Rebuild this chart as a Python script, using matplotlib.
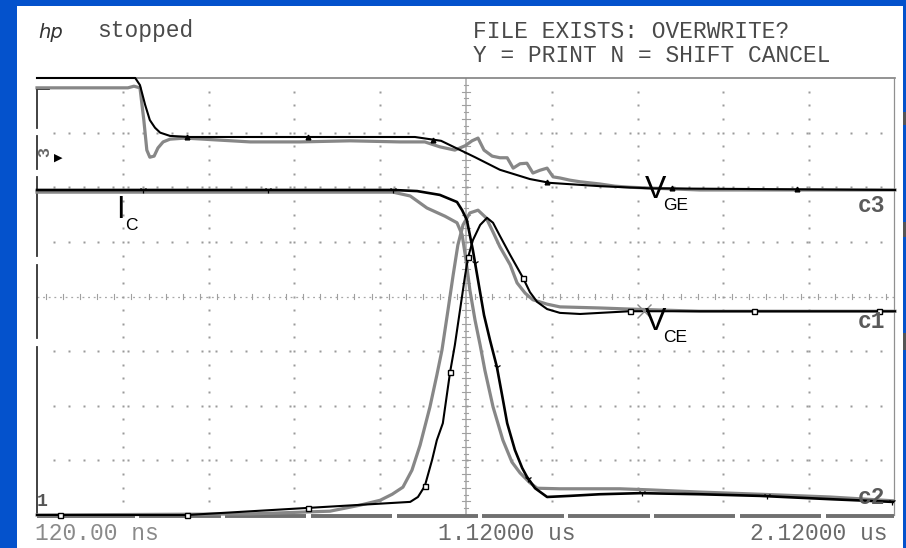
import numpy as np
import matplotlib
matplotlib.use("Agg")
import matplotlib.pyplot as plt
from matplotlib.patches import Rectangle

# ---------------- data (time in ns, amplitude in screen divisions) ----------------
vge_t = [120, 349, 360, 372, 383, 395, 407, 430, 477, 1001, 1062, 1083, 1141, 1199,
         1269, 1316, 1432, 1549, 2120]
vge_v = [8.00, 8.00, 7.87, 7.51, 7.23, 7.09, 7.00, 6.94, 6.92, 6.92, 6.85, 6.77, 6.55,
         6.32, 6.15, 6.08, 6.02, 5.98, 5.95]

vge_sim_t = [120, 332, 346, 360, 369, 376, 383, 393, 402, 414, 430, 465, 617, 733, 850,
             966, 1024, 1059, 1094, 1118, 1134, 1148, 1162, 1181, 1199, 1216, 1230, 1246,
             1262, 1276, 1292, 1309, 1323, 1339, 1362, 1386, 1409, 1432, 1467, 1502,
             1665, 2120]
vge_sim_v = [7.82, 7.82, 7.85, 7.82, 7.23, 6.68, 6.55, 6.57, 6.72, 6.83, 6.88, 6.90, 6.83,
             6.83, 6.85, 6.83, 6.83, 6.74, 6.68, 6.76, 6.85, 6.90, 6.68, 6.57, 6.54, 6.54,
             6.35, 6.43, 6.44, 6.26, 6.31, 6.35, 6.19, 6.17, 6.13, 6.10, 6.08, 6.06, 6.02,
             6.00, 5.95, 5.95]

ic_t = [120, 950, 1006, 1059, 1099, 1111, 1122, 1136, 1148, 1162, 1176, 1192, 1204, 1216,
        1234, 1251, 1262, 1281, 1309, 1362, 1432, 1526, 1665, 1805, 1968, 2115]
ic_v = [5.95, 5.95, 5.93, 5.86, 5.73, 5.58, 5.40, 4.85, 4.30, 3.66, 3.20, 2.71, 2.20, 1.68,
        1.19, 0.86, 0.70, 0.49, 0.33, 0.35, 0.38, 0.40, 0.38, 0.35, 0.29, 0.24]

ic_sim_t = [120, 950, 990, 1029, 1071, 1099, 1111, 1120, 1129, 1141, 1153, 1164, 1183,
            1206, 1227, 1246, 1269, 1286, 1339, 1479, 1549, 1665, 1805, 1968, 2115]
ic_sim_v = [5.91, 5.91, 5.84, 5.62, 5.47, 5.35, 5.13, 4.67, 4.12, 3.57, 3.11, 2.65, 1.98,
            1.37, 0.97, 0.77, 0.59, 0.49, 0.48, 0.48, 0.46, 0.42, 0.38, 0.33, 0.26]

vce_t = [120, 470, 752, 990, 1008, 1024, 1041, 1052, 1066, 1083, 1094, 1106, 1118, 1125,
         1136, 1153, 1169, 1183, 1199, 1223, 1253, 1269, 1286, 1309, 1339, 1386, 1432,
         1502, 2120]
vce_v = [0.00, 0.00, 0.13, 0.24, 0.33, 0.53, 1.01, 1.37, 1.68, 2.62, 3.11, 3.75, 4.39, 4.72,
         5.03, 5.31, 5.44, 5.35, 5.11, 4.76, 4.34, 4.08, 3.90, 3.77, 3.70, 3.68, 3.70,
         3.73, 3.73]

vce_sim_t = [120, 617, 803, 873, 920, 948, 973, 994, 1013, 1036, 1052, 1064, 1078, 1090,
             1101, 1113, 1129, 1148, 1167, 1183, 1199, 1223, 1239, 1258, 1276, 1309, 1339,
             1432, 1502, 1665, 2120]
vce_sim_v = [0.00, 0.02, 0.07, 0.18, 0.27, 0.38, 0.51, 0.82, 1.28, 1.98, 2.56, 3.02, 3.75,
             4.39, 4.94, 5.31, 5.53, 5.58, 5.44, 5.18, 4.91, 4.58, 4.25, 4.06, 3.94, 3.86,
             3.81, 3.79, 3.77, 3.73, 3.73]

vce_marks = [174, 470, 752, 1024, 1083, 1125, 1253, 1502, 1791, 2083]
vge_marks = [470, 752, 1043, 1309, 1600, 1892]
ic_marks = [367, 659, 950, 1141, 1192, 1265, 1531, 1822, 2113]

x_labels = ["120.00 ns", "1.12000 us", "2.12000 us"]

# ---------------- figure ----------------
W, H = 906, 548
fig = plt.figure(figsize=(W / 100, H / 100), dpi=100)
fig.patch.set_facecolor("#0452cc")

def fx(px):
    return px / W

def fy(py):
    return 1 - py / H

fig.add_artist(Rectangle((fx(17), 0), fx(903) - fx(17), fy(6), transform=fig.transFigure,
                         facecolor="white", edgecolor="none", zorder=0))
# small bars on right edge
for y0, y1 in [(112, 125), (222, 237), (333, 350)]:
    fig.add_artist(Rectangle((fx(903), fy(y1)), fx(3), fy(y0) - fy(y1),
                             transform=fig.transFigure, facecolor="#555555",
                             edgecolor="none", zorder=1))

ax = fig.add_axes([fx(37), fy(515), fx(895) - fx(37), fy(78) - fy(515)])
ax.set_xlim(120, 2120)
ax.set_ylim(0, 8)
ax.axis("off")
ax.patch.set_alpha(0)

GRID = "#9a9a9a"
div_t = [120 + 200 * i for i in range(11)]

# dotted grid
for i in range(1, 10):
    if i == 5:
        continue
    ys = np.arange(0.25, 8.0, 0.25)
    ax.plot([div_t[i]] * len(ys), ys, ls="none", marker="s", ms=1.5, color=GRID,
            mec="none", clip_on=False)
for j in range(1, 8):
    if j == 4:
        continue
    xs = np.arange(160, 2120, 34.4)
    ax.plot(xs, [j] * len(xs), ls="none", marker="s", ms=1.5, color=GRID, mec="none",
            clip_on=False)

# centre crosshair
ax.plot([1120, 1120], [0, 8], color="#a8a8a8", lw=1.1, zorder=1)
for yy in np.arange(0.125, 8.0, 0.125):
    w = 9 if abs(yy * 4 - round(yy * 4)) < 1e-6 else 4
    ax.plot([1120 - w, 1120 + w], [yy, yy], color="#a0a0a0", lw=0.8, zorder=1)
ax.plot([120, 2120], [4, 4], color="#a8a8a8", lw=0.9, ls=(0, (1.5, 3)), zorder=1)
for xx in np.arange(140, 2120, 40):
    ax.plot([xx, xx], [3.96, 4.05], color="#a0a0a0", lw=0.8, zorder=1)

# frame
ax.plot([120, 2120], [8, 8], color="#808080", lw=1.2, clip_on=False, zorder=2)
ax.plot([2118, 2118], [0, 8], color="#909090", lw=0.9, clip_on=False, zorder=2)
gaps = [353 + 200 * k for k in range(9)]
edges = [120] + sum([[g - 5, g + 5] for g in gaps], []) + [2118]
for a, b in zip(edges[0::2], edges[1::2]):
    ax.plot([a, b], [-0.02, -0.02], color="#707070", lw=2.8, clip_on=False, zorder=2,
            solid_capstyle="butt")
left_segs = [(0, 3.08), (3.24, 4.58), (4.74, 6.18), (6.34, 6.93), (7.09, 7.82)]
for a, b in left_segs:
    ax.plot([120, 120], [a, b], color="#333333", lw=1.3, clip_on=False, zorder=3)
ax.plot([120, 146], [7.82, 7.82], color="black", lw=2, clip_on=False, zorder=3)
ax.plot([120, 153], [5.94, 5.94], color="#222222", lw=1.3, clip_on=False, zorder=3)

# simulated (gray) traces
SIM = "#878787"
for t, v in [(vge_sim_t, vge_sim_v), (ic_sim_t, ic_sim_v), (vce_sim_t, vce_sim_v)]:
    ax.plot(t, v, color=SIM, lw=2.3, zorder=4, clip_on=False, solid_joinstyle="round")

# measured (black) traces
ax.plot(vge_t, vge_v, color="black", lw=1.5, zorder=5, clip_on=False)
ax.plot(ic_t, ic_v, color="black", lw=1.9, zorder=5, clip_on=False)
ax.plot(vce_t, vce_v, color="black", lw=1.5, zorder=5, clip_on=False)

ax.plot(vce_marks, np.interp(vce_marks, vce_t, vce_v), ls="none", marker="s", ms=3.6,
        mfc="white", mec="black", mew=1.0, zorder=6, clip_on=False)
ax.plot(vge_marks, np.interp(vge_marks, vge_t, vge_v), ls="none", marker="^", ms=3.4,
        color="black", zorder=6, clip_on=False)
ax.plot(ic_marks, np.interp(ic_marks, ic_t, ic_v), ls="none", marker="1", ms=5,
        color="black", mew=0.9, zorder=6, clip_on=False)
ax.plot([1536], [3.73], ls="none", marker="x", ms=10, color="#8a8a8a", mew=1.0, zorder=6)

# ---------------- texts ----------------
MONO = "Liberation Mono"
TXT = "#4a4a4a"
FS = 16.5
fig.text(fx(38), fy(32), "hp", fontsize=14, style="italic", family="DejaVu Sans",
         color="#333333", va="center", ha="left")
fig.text(fx(97), fy(31), "stopped", fontsize=FS, family=MONO, color=TXT,
         va="center", ha="left")
fig.text(fx(473), fy(31), "FILE EXISTS: OVERWRITE?", fontsize=FS, family=MONO,
         color=TXT, va="center", ha="left")
fig.text(fx(473), fy(55), "Y = PRINT N = SHIFT CANCEL", fontsize=FS, family=MONO,
         color=TXT, va="center", ha="left")

fig.text(fx(35), fy(533), x_labels[0], fontsize=FS, family=MONO, color="#8a8a8a",
         va="center", ha="left")
fig.text(fx(438), fy(533), x_labels[1], fontsize=FS, family=MONO, color="#6a6a6a",
         va="center", ha="left")
fig.text(fx(888), fy(533), x_labels[2], fontsize=FS, family=MONO, color="#6a6a6a",
         va="center", ha="right")

for lab, y in [("c3", 205), ("c1", 322), ("c2", 497)]:
    fig.text(fx(885), fy(y), lab, fontsize=FS, family=MONO, color="#5a5a5a",
             va="center", ha="right", weight="bold")
fig.text(fx(45), fy(152), "3", fontsize=12, family=MONO, color="#666666",
         va="center", ha="center", rotation=90, weight="bold")
fig.text(fx(58), fy(158), "\u25B6", fontsize=8, family="DejaVu Sans", color="black",
         va="center", ha="center")
fig.text(fx(42), fy(501), "1", fontsize=13, family=MONO, color="#555555",
         va="center", ha="center", weight="bold")

SANS = "Liberation Sans"
def sub_label(x, y, main, sub):
    fig.text(fx(x), fy(y), main, fontsize=23, family=SANS, color="black",
             va="baseline", ha="left")
    fig.text(fx(x + 18), fy(y + 12), sub, fontsize=12.5, family=SANS, color="black",
             va="baseline", ha="left")

sub_label(645, 198, "V", "GE")
fig.text(fx(116), fy(218), "I", fontsize=22, family=SANS, color="black",
         va="baseline", ha="left")
fig.text(fx(125), fy(230), "C", fontsize=12.5, family=SANS, color="black",
         va="baseline", ha="left")
sub_label(645, 330, "V", "CE")

fig.savefig("out.png", dpi=100, facecolor=fig.get_facecolor())
